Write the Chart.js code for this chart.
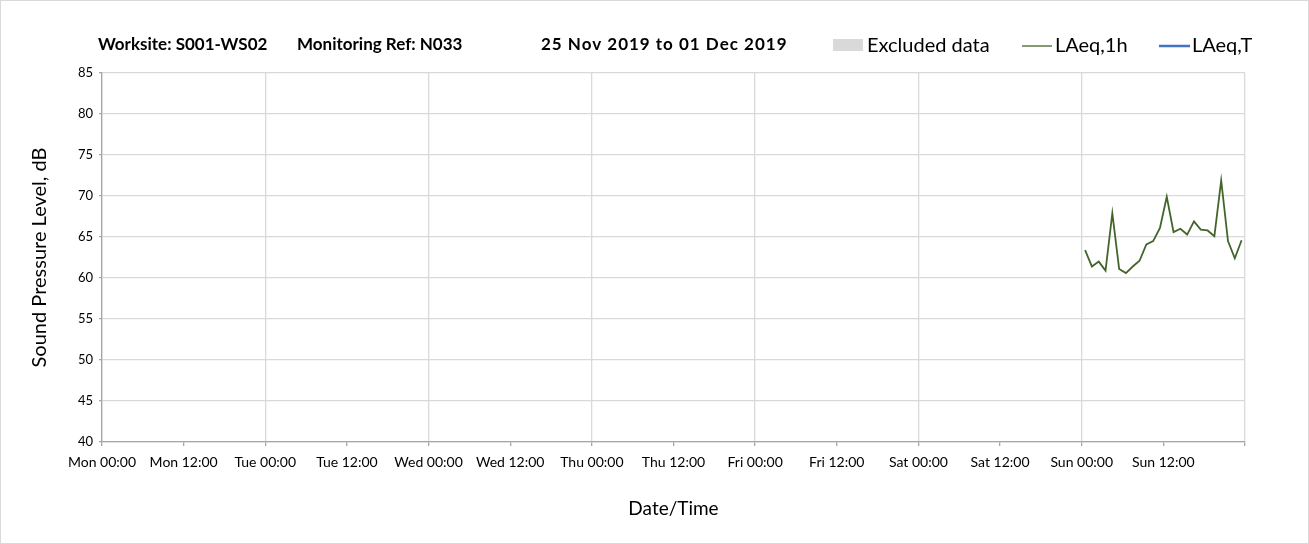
<!DOCTYPE html>
<html lang="en">

<head>
    <meta charset="UTF-8">
    <title>Worksite S001-WS02 - Monitoring Ref N033</title>
    <script src="https://cdn.jsdelivr.net/npm/chart.js"></script>
    <style>
        body {
            margin: 0;
            padding: 0;
            background: #fff;
        }

        .wrap {
            width: 1309px;
            height: 544px;
        }
    </style>
</head>

<body>
    <div class="wrap">
        <canvas id="noiseChart" width="1309" height="544"></canvas>
    </div>

    <script>
        // hours since Mon 00:00 (Sunday hourly readings)
        const hoursFromMonday = [144.5, 145.5, 146.5, 147.5, 148.5, 149.5, 150.5, 151.5, 152.5, 153.5, 154.5, 155.5,
            156.5, 157.5, 158.5, 159.5, 160.5, 161.5, 162.5, 163.5, 164.5, 165.5, 166.5, 167.5];
        const laeq1h = [63.4, 61.4, 62.0, 60.9, 67.9, 61.1, 60.6, 61.4, 62.1, 64.1, 64.5, 66.1,
            69.9, 65.6, 66.0, 65.3, 66.9, 65.9, 65.8, 65.1, 71.9, 64.5, 62.4, 64.6];
        const laeqT = [];
        const excluded = [];
        const xTickLabels = ['Mon 00:00', 'Mon 12:00', 'Tue 00:00', 'Tue 12:00', 'Wed 00:00', 'Wed 12:00', 'Thu 00:00',
            'Thu 12:00', 'Fri 00:00', 'Fri 12:00', 'Sat 00:00', 'Sat 12:00', 'Sun 00:00', 'Sun 12:00'];

        const FONT = 'Lato, "Open Sans", sans-serif';
        const gridGrey = '#d9d9d9';

        // title and legend share one row above the plot
        const headerPlugin = {
            id: 'header',
            afterDraw(chart) {
                const ctx = chart.ctx;
                ctx.save();
                ctx.fillStyle = '#000';
                ctx.textBaseline = 'alphabetic';
                ctx.font = 'bold 17px ' + FONT;
                ctx.fillText('Worksite: S001-WS02', 98, 50);
                ctx.fillText('Monitoring Ref: N033', 297, 50);
                ctx.letterSpacing = '1px';
                ctx.fillText('25 Nov 2019 to 01 Dec 2019', 541, 50);
                ctx.letterSpacing = '0px';

                ctx.font = '20px ' + FONT;
                ctx.fillStyle = '#d9d9d9';
                ctx.fillRect(833, 39, 30, 12);
                ctx.fillStyle = '#000';
                ctx.fillText('Excluded data', 867, 52);

                ctx.strokeStyle = '#44652a';
                ctx.lineWidth = 1.3;
                ctx.beginPath();
                ctx.moveTo(1022, 46);
                ctx.lineTo(1052, 46);
                ctx.stroke();
                ctx.fillText('LAeq,1h', 1055, 52);

                ctx.strokeStyle = '#4472c4';
                ctx.lineWidth = 2.5;
                ctx.beginPath();
                ctx.moveTo(1159, 46);
                ctx.lineTo(1190, 46);
                ctx.stroke();
                ctx.fillText('LAeq,T', 1192, 52);

                // outer frame
                ctx.strokeStyle = '#d9d9d9';
                ctx.lineWidth = 1;
                ctx.strokeRect(0.5, 0.5, chart.width - 1, chart.height - 1);
                ctx.restore();
            }
        };

        const ctx = document.getElementById('noiseChart').getContext('2d');
        new Chart(ctx, {
            type: 'line',
            data: {
                datasets: [
                    {
                        label: 'Excluded data',
                        data: excluded,
                        backgroundColor: '#d9d9d9',
                        borderColor: '#d9d9d9'
                    },
                    {
                        label: 'LAeq,1h',
                        data: hoursFromMonday.map((h, i) => ({ x: h, y: laeq1h[i] })),
                        borderColor: '#44652a',
                        borderWidth: 1.8,
                        pointRadius: 0,
                        tension: 0
                    },
                    {
                        label: 'LAeq,T',
                        data: laeqT,
                        borderColor: '#4472c4',
                        borderWidth: 2.5,
                        pointRadius: 0
                    }
                ]
            },
            options: {
                responsive: false,
                animation: false,
                layout: {
                    padding: { top: 73, right: 64, left: 0, bottom: 0 }
                },
                plugins: {
                    legend: { display: false },
                    title: { display: false },
                    tooltip: { enabled: false }
                },
                scales: {
                    x: {
                        type: 'linear',
                        min: 0,
                        max: 168,
                        afterFit: (scale) => { scale.height = 102; },
                        ticks: {
                            stepSize: 12,
                            autoSkip: false,
                            maxRotation: 0,
                            padding: 8,
                            color: '#000',
                            font: { family: FONT, size: 14 },
                            callback: (v) => xTickLabels[v / 12] || ''
                        },
                        grid: {
                            color: (c) => (c.tick && c.tick.value % 24 === 0) ? gridGrey : 'rgba(0,0,0,0)',
                            tickColor: '#a6a6a6',
                            tickLength: 4,
                            lineWidth: 1.3
                        },
                        border: { color: '#a6a6a6', width: 1.3 },
                        title: {
                            display: true,
                            text: 'Date/Time',
                            color: '#000',
                            font: { family: FONT, size: 19 },
                            padding: { top: 0, bottom: 24 }
                        }
                    },
                    y: {
                        min: 40,
                        max: 85,
                        afterFit: (scale) => { scale.width = 102; },
                        ticks: {
                            stepSize: 5,
                            padding: 6,
                            color: '#000',
                            font: { family: FONT, size: 13 }
                        },
                        grid: {
                            color: gridGrey,
                            tickColor: '#a6a6a6',
                            tickLength: 3,
                            lineWidth: 1.3
                        },
                        border: { color: '#a6a6a6', width: 1.3 },
                        title: {
                            display: true,
                            text: 'Sound Pressure Level, dB',
                            color: '#000',
                            font: { family: FONT, size: 20 },
                            padding: { top: 28, bottom: 0 }
                        }
                    }
                }
            },
            plugins: [headerPlugin]
        });
    </script>
</body>

</html>
